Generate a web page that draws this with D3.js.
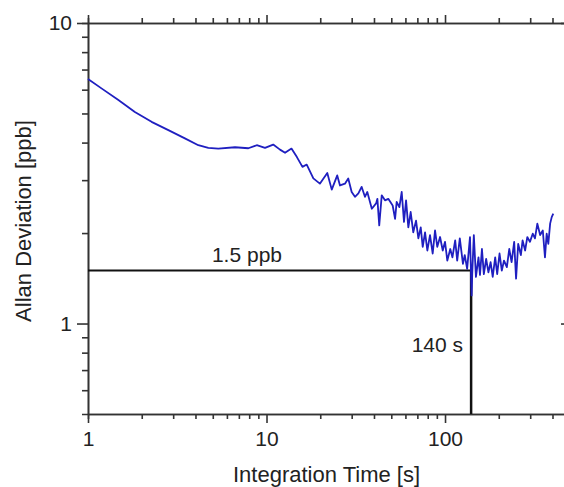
<!DOCTYPE html>
<html>
<head>
<meta charset="utf-8">
<script src="https://cdn.jsdelivr.net/npm/d3@7"></script>
<style>
  body { margin: 0; background: #fff; }
  svg { display: block; font-family: "Liberation Sans", Arial, sans-serif; }
  .axis path, .axis line { stroke: #333; stroke-width: 1.6; }
  .axis text { fill: #222; font-size: 21px; }
</style>
</head>
<body>
<div id="chart"></div>
<script>
// integration time [s]
const tau = [1.0, 1.19, 1.48, 1.83, 2.27, 2.82, 3.49, 4.15, 4.72, 5.37, 6.66, 7.91, 8.82, 9.81,
  10.9, 11.9, 12.7, 13.8, 14.8, 15.9, 16.8, 18.3, 19.9, 21.9, 23.2, 24.9,
  25.8, 27.5, 28.7, 30.0, 31.3, 32.7, 34.1, 35.6, 36.7, 38.9, 41.1, 41.8, 42.8, 44.2, 46.1, 48.1,
  50.9, 52.5, 53.6, 55.5, 57.2, 58.9, 60.5, 62.3, 64.2, 66.4, 68.8, 70.9, 73.1, 75.0, 77.3, 79.6,
  82.4, 85.3, 87.9, 90.5, 93.8, 97.1, 100, 103, 107,
  110, 114, 117, 121, 126, 129, 133, 138, 141, 142, 145, 149, 154, 157, 161, 165, 170, 175, 180,
  185, 191, 196, 202, 208, 214, 222, 229, 236, 244, 250, 257, 266, 272, 281, 289, 299, 310, 319,
  329, 341, 353, 363, 371, 379, 388, 396, 404]

// allan deviation [ppb]
const adev = [6.51, 6.06, 5.54, 5.06, 4.69, 4.40, 4.13, 3.92, 3.84, 3.82, 3.86, 3.83, 3.92, 3.84,
  3.94, 3.79, 3.70, 3.82, 3.58, 3.32, 3.38, 3.04, 2.92, 3.17, 2.79, 3.11,
  2.88, 2.92, 3.04, 2.74, 2.64, 2.71, 2.85, 2.64, 2.74, 2.41, 2.51, 2.60, 2.12, 2.67, 2.57, 2.60,
  2.47, 2.23, 2.54, 2.44, 2.74, 2.18, 2.57, 2.09, 2.35, 2.01, 2.20, 1.92, 2.09, 1.80, 2.01, 1.75,
  1.97, 1.71, 2.04, 1.80, 1.94, 1.75, 1.87, 1.62, 1.77,
  1.66, 1.89, 1.62, 1.92, 1.58, 1.69, 1.52, 1.94, 1.24, 1.46, 1.97, 1.43, 1.66, 1.45, 1.77, 1.46,
  1.64, 1.48, 1.60, 1.43, 1.66, 1.46, 1.71, 1.50, 1.62, 1.54, 1.77, 1.60, 1.87, 1.41, 1.84, 1.69,
  1.89, 1.75, 1.94, 1.87, 1.99, 1.92, 2.15, 1.97, 2.04, 1.66, 1.99, 1.84, 2.15, 2.26, 2.32]

const xMajor = [1, 10, 100]
const xMinor = [2, 3, 4, 5, 6, 7, 8, 9, 20, 30, 40, 50, 60, 70, 80, 90, 200, 300, 400]
const yMajor = [1, 10]
const yMinor = [0.6, 0.7, 0.8, 0.9, 2, 3, 4, 5, 6, 7, 8, 9]

const minLevel = 1.5   // ppb
const minTime = 140    // s

const width = 564
const height = 487
const mLeft = 88, mRight = 565, mTop = 23, mBottom = 414

const x = d3.scaleLog().domain([1, 470]).range([mLeft, mRight])
const y = d3.scaleLog().domain([0.5, 10]).range([mBottom, mTop])

const svg = d3.select('#chart').append('svg')
  .attr('width', width)
  .attr('height', height)

// minor ticks first
svg.append('g').attr('class', 'axis')
  .attr('transform', 'translate(0,' + mBottom + ')')
  .call(d3.axisBottom(x).tickValues(xMinor).tickSize(5).tickFormat(''))
svg.append('g').attr('class', 'axis')
  .attr('transform', 'translate(0,' + mTop + ')')
  .call(d3.axisTop(x).tickValues(xMinor).tickSize(5).tickFormat(''))
svg.append('g').attr('class', 'axis')
  .attr('transform', 'translate(' + mLeft + ',0)')
  .call(d3.axisLeft(y).tickValues(yMinor).tickSize(6).tickFormat(''))

// major ticks with labels
svg.append('g').attr('class', 'axis')
  .attr('transform', 'translate(0,' + mBottom + ')')
  .call(d3.axisBottom(x).tickValues(xMajor).tickSize(9).tickSizeOuter(0).tickPadding(8).tickFormat(d3.format('d')))
svg.append('g').attr('class', 'axis')
  .attr('transform', 'translate(0,' + mTop + ')')
  .call(d3.axisTop(x).tickValues(xMajor).tickSize(8).tickSizeOuter(0).tickFormat(''))
svg.append('g').attr('class', 'axis')
  .attr('transform', 'translate(' + mLeft + ',0)')
  .call(d3.axisLeft(y).tickValues(yMajor).tickSize(11).tickSizeOuter(0).tickPadding(5).tickFormat(d3.format('d')))
svg.append('g').attr('class', 'axis')
  .attr('transform', 'translate(' + mRight + ',0)')
  .call(d3.axisRight(y).tickValues(yMajor).tickSize(-4).tickSizeOuter(0).tickFormat(''))

// reference lines for the minimum
svg.append('line')
  .attr('x1', x(1)).attr('x2', x(minTime))
  .attr('y1', y(minLevel)).attr('y2', y(minLevel))
  .attr('stroke', '#111').attr('stroke-width', 2)
svg.append('line')
  .attr('x1', x(minTime)).attr('x2', x(minTime))
  .attr('y1', y(minLevel)).attr('y2', mBottom)
  .attr('stroke', '#111').attr('stroke-width', 2.5)

// allan deviation curve
const line = d3.line()
  .x((d, i) => x(tau[i]))
  .y(d => y(d))

svg.append('path')
  .datum(adev)
  .attr('fill', 'none')
  .attr('stroke', '#1f1fc0')
  .attr('stroke-width', 1.8)
  .attr('stroke-linejoin', 'round')
  .attr('d', line)

// annotations
svg.append('text')
  .attr('x', 282).attr('y', 262)
  .attr('text-anchor', 'end')
  .attr('font-size', 21).attr('fill', '#222')
  .text(minLevel + ' ppb')
svg.append('text')
  .attr('x', 463).attr('y', 352)
  .attr('text-anchor', 'end')
  .attr('font-size', 21).attr('fill', '#222')
  .text(minTime + ' s')

// axis titles
svg.append('text')
  .attr('x', (mLeft + mRight) / 2).attr('y', 482)
  .attr('text-anchor', 'middle')
  .attr('font-size', 22).attr('fill', '#222')
  .text('Integration Time [s]')
svg.append('text')
  .attr('transform', 'translate(31,' + 221 + ') rotate(-90)')
  .attr('text-anchor', 'middle')
  .attr('font-size', 22).attr('fill', '#222')
  .text('Allan Deviation [ppb]')
</script>
</body>
</html>
